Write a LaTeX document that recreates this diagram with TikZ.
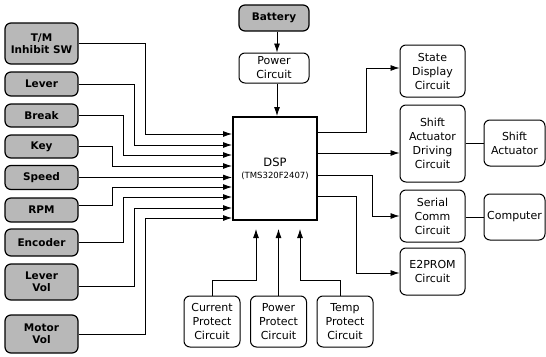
\documentclass[tikz,border=0pt]{standalone}
\usepackage{fontspec}
\setmainfont{DejaVu Sans}
\usetikzlibrary{arrows.meta}
\begin{document}
\begin{tikzpicture}[x=1pt,y=-1pt,
  gbox/.style={draw, rounded corners=6pt, line width=1.2pt, fill=black!28,
    font=\bfseries\fontsize{10.5}{12}\selectfont, align=center, inner sep=0pt,
    minimum width=73pt},
  wbox/.style={draw, rounded corners=6pt, line width=1pt, fill=white,
    font=\fontsize{11}{14}\selectfont, align=center, inner sep=0pt},
  conn/.style={line width=0.8pt},
  arr/.style={conn, -{Latex[length=9pt,width=6pt]}}]
\useasboundingbox (0,0) rectangle (546,356);
% left inputs
\node[gbox, minimum height=41pt] (tm) at (41.5,43.5) {T/M\\Inhibit SW};
\node[gbox, minimum height=24pt] (lever) at (41.5,84) {Lever};
\node[gbox, minimum height=23pt] (brk) at (41.5,115.5) {Break};
\node[gbox, minimum height=23pt] (key) at (41.5,146.5) {Key};
\node[gbox, minimum height=24pt] (speed) at (41.5,177.5) {Speed};
\node[gbox, minimum height=24pt] (rpm) at (41.5,210) {RPM};
\node[gbox, minimum height=27pt] (enc) at (41.5,242.5) {Encoder};
\node[gbox, minimum height=36pt] (lvol) at (41.5,282) {Lever\\Vol};
\node[gbox, minimum height=38pt] (mvol) at (41.5,334) {Motor\\Vol};
% top
\node[gbox, minimum width=70pt, minimum height=26pt] (battery) at (274,18) {Battery};
\node[wbox, minimum width=70pt, minimum height=30pt] (power) at (274,68) {Power\\Circuit};
% DSP
\node[draw, line width=2pt, minimum width=84pt, minimum height=103pt, inner sep=0pt,
  align=center, font=\fontsize{11.5}{13}\selectfont] (dsp) at (275,168.5)
  {DSP\\[-1pt]{\fontsize{8.5}{10}\selectfont (TMS320F2407)}};
% right
\node[wbox, minimum width=65pt, minimum height=52pt] (state) at (432.5,71) {State\\Display\\Circuit};
\node[wbox, minimum width=65pt, minimum height=77pt] (drive) at (432.5,143.5) {Shift\\Actuator\\Driving\\Circuit};
\node[wbox, minimum width=61pt, minimum height=46pt] (act) at (514.5,143) {Shift\\Actuator};
\node[wbox, minimum width=65pt, minimum height=52pt] (serial) at (432.5,216) {Serial\\Comm\\Circuit};
\node[wbox, minimum width=61pt, minimum height=46pt] (comp) at (514.5,217) {Computer};
\node[wbox, minimum width=65pt, minimum height=47pt] (eeprom) at (432.5,271.5) {E2PROM\\Circuit};
% bottom
\node[wbox, minimum width=56pt, minimum height=51pt] (cur) at (212,321.5) {Current\\Protect\\Circuit};
\node[wbox, minimum width=56pt, minimum height=51pt] (pp) at (278.5,321.5) {Power\\Protect\\Circuit};
\node[wbox, minimum width=56pt, minimum height=51pt] (temp) at (345,321.5) {Temp\\Protect\\Circuit};
% left connectors
\draw[arr] (tm.east) -| (145,134) -- (dsp.west |- 0,134);
\draw[arr] (lever.east) -| (134,145) -- (dsp.west |- 0,145);
\draw[arr] (brk.east) -| (123,155) -- (dsp.west |- 0,155);
\draw[arr] (key.east) -| (112,166) -- (dsp.west |- 0,166);
\draw[arr] (speed.east) -- (dsp.west |- speed.east);
\draw[arr] ([yshift=5pt]rpm.east) -| (112,187) -- (dsp.west |- 0,187);
\draw[arr] (enc.east) -| (123,197) -- (dsp.west |- 0,197);
\draw[arr] ([yshift=-4pt]lvol.east) -| (134,208) -- (dsp.west |- 0,208);
\draw[arr] (mvol.east) -| (145,218) -- (dsp.west |- 0,218);
% top connectors
\draw[arr] (battery.south -| 277,0) -- (power.north -| 277,0);
\draw[arr] (power.south -| 277,0) -- (dsp.north -| 277,0);
% bottom connectors
\draw[arr, shorten >=8pt] (cur.north) |- (256,280) -- (dsp.south -| 256,0);
\draw[arr, shorten >=8pt] (pp.north) -- (dsp.south -| pp.north);
\draw[arr, shorten >=8pt] ([xshift=-5pt]temp.north) |- (300,280) -- (dsp.south -| 300,0);
% right connectors
\draw[arr] (dsp.east |- 0,132) -| (366,68) -- (state.west |- 0,68);
\draw[arr] (dsp.east |- 0,153) -- (drive.west |- 0,153);
\draw[arr] (dsp.east |- 0,175) -| (372,216) -- (serial.west |- 0,216);
\draw[arr] (dsp.east |- 0,196) -| (356,273) -- (eeprom.west |- 0,273);
\draw[conn] (drive.east |- act.west) -- (act.west);
\draw[conn] (serial.east |- comp.west) -- (comp.west);
\end{tikzpicture}
\end{document}
